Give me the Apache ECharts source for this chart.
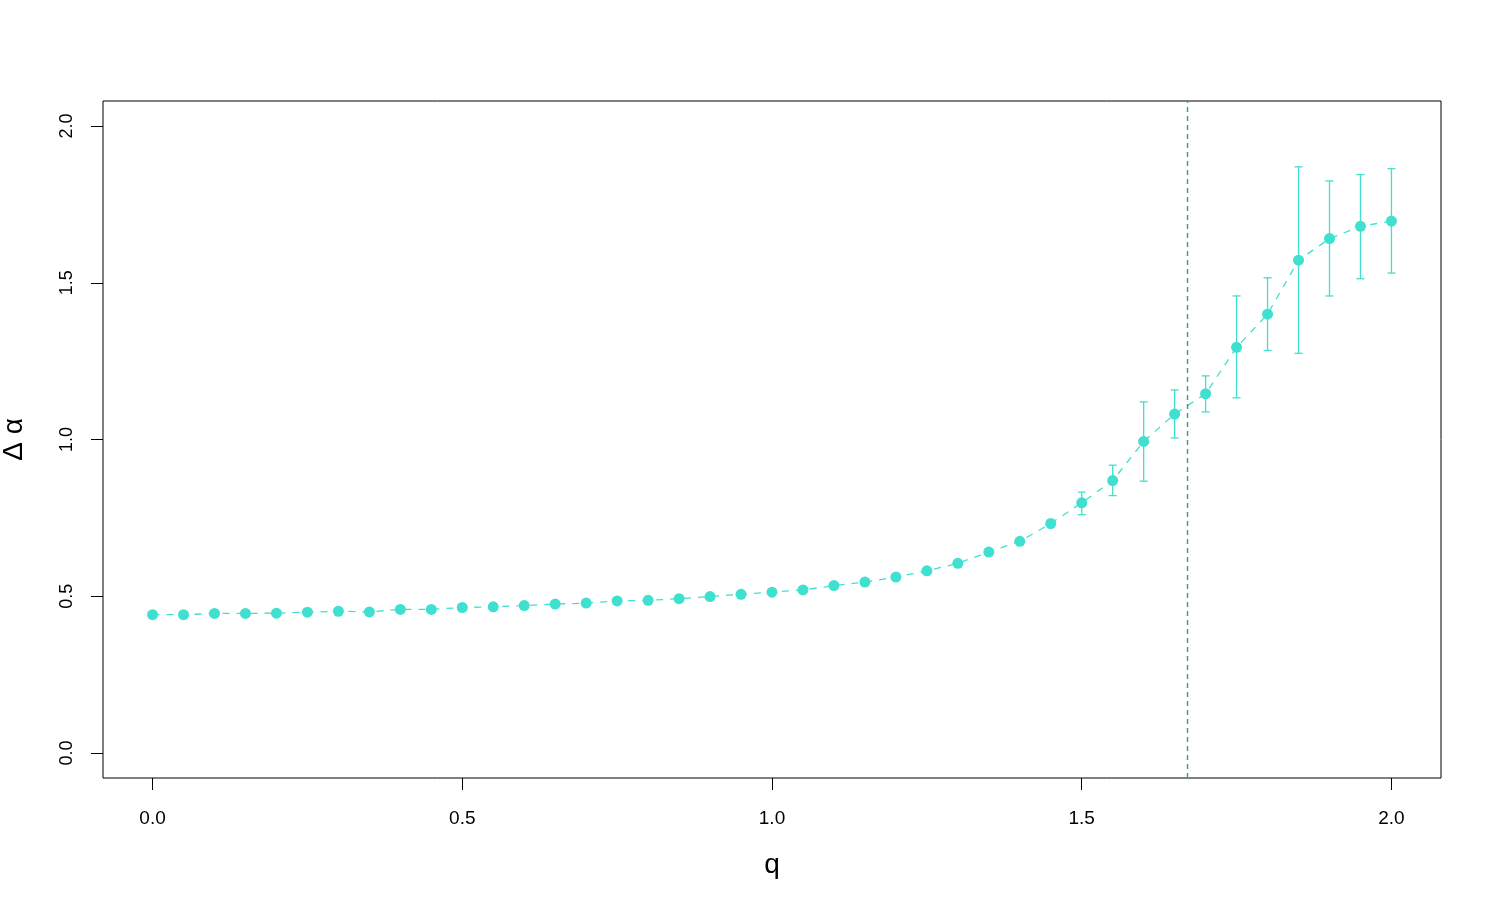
<!DOCTYPE html>
<html>
<head>
<meta charset="utf-8">
<script src="https://cdn.jsdelivr.net/npm/echarts@6/dist/echarts.min.js"></script>
<style>
html, body { margin: 0; padding: 0; background: #fff; }
#main { width: 1495px; height: 907px; }
</style>
</head>
<body>
<div id="main"></div>
<script>
// q values along the x axis
var q = [0.00, 0.05, 0.10, 0.15, 0.20, 0.25, 0.30, 0.35, 0.40, 0.45,
         0.50, 0.55, 0.60, 0.65, 0.70, 0.75, 0.80, 0.85, 0.90, 0.95,
         1.00, 1.05, 1.10, 1.15, 1.20, 1.25, 1.30, 1.35, 1.40, 1.45,
         1.50, 1.55, 1.60, 1.65, 1.70, 1.75, 1.80, 1.85, 1.90, 1.95, 2.00];
// delta alpha
var deltaAlpha = [0.441, 0.441, 0.445, 0.445, 0.446, 0.449, 0.452, 0.450, 0.458, 0.458,
                  0.464, 0.466, 0.470, 0.475, 0.478, 0.485, 0.487, 0.492, 0.499, 0.506,
                  0.513, 0.520, 0.534, 0.545, 0.561, 0.581, 0.605, 0.641, 0.675, 0.732,
                  0.798, 0.869, 0.994, 1.081, 1.146, 1.294, 1.400, 1.572, 1.641, 1.680, 1.697];
// error bars (only visible ones)
var errQ    = [1.50, 1.55, 1.60, 1.65, 1.70, 1.75, 1.80, 1.85, 1.90, 1.95, 2.00];
var errLow  = [0.760, 0.821, 0.867, 1.005, 1.088, 1.133, 1.284, 1.275, 1.458, 1.513, 1.531];
var errHigh = [0.832, 0.918, 1.120, 1.158, 1.203, 1.458, 1.516, 1.870, 1.825, 1.845, 1.864];
var qCut = 1.665;
var xTicks = [0, 0.5, 1, 1.5, 2];
var yTicks = [0, 0.5, 1, 1.5, 2];

var col = '#40E0D0';
var font = 'Liberation Sans, Arial, Helvetica, sans-serif';

function errorBar(params, api){
	var x = api.value(0);
	var lo = api.coord([x, api.value(1)]);
	var hi = api.coord([x, api.value(2)]);
	var cap = 4;
	var style = { stroke: col, lineWidth: 1.3 };
	return {
		type: 'group',
		children: [
			{ type: 'line', shape: { x1: lo[0], y1: lo[1], x2: hi[0], y2: hi[1] }, style: style },
			{ type: 'line', shape: { x1: lo[0] - cap, y1: lo[1], x2: lo[0] + cap, y2: lo[1] }, style: style },
			{ type: 'line', shape: { x1: hi[0] - cap, y1: hi[1], x2: hi[0] + cap, y2: hi[1] }, style: style }
		]
	};
}

var points = [];
for (var i = 0; i < q.length; i++) points.push([q[i], deltaAlpha[i]]);
var bars = [];
for (var j = 0; j < errQ.length; j++) bars.push([errQ[j], errLow[j], errHigh[j]]);

var opt = {
	animation: false,
	grid: {
		left: 103, right: 54, top: 101, bottom: 129,
		containLabel: false, outerBoundsMode: 'none',
		show: true, borderColor: '#000', borderWidth: 1, backgroundColor: 'transparent'
	},
	xAxis: {
		type: 'value', min: -0.08, max: 2.08,
		name: 'q', nameLocation: 'middle', nameGap: 73, nameMoveOverlap: false,
		nameTextStyle: { fontFamily: font, fontSize: 28, color: '#000' },
		axisLine: { show: false, onZero: false },
		splitLine: { show: false },
		axisTick: { show: true, length: 12, customValues: xTicks, lineStyle: { color: '#000' } },
		axisLabel: {
			customValues: xTicks, margin: 31, fontFamily: font, fontSize: 19, color: '#000',
			formatter: function(v){ return v.toFixed(1); }
		}
	},
	yAxis: {
		type: 'value', min: -0.08, max: 2.08,
		name: 'Δ α', nameLocation: 'middle', nameGap: 75, nameRotate: 90, nameMoveOverlap: false,
		nameTextStyle: { fontFamily: font, fontSize: 28, color: '#000' },
		axisLine: { show: false, onZero: false },
		splitLine: { show: false },
		axisTick: { show: true, length: 12, customValues: yTicks, lineStyle: { color: '#000' } },
		axisLabel: {
			customValues: yTicks, margin: 27, rotate: 90, fontFamily: font, fontSize: 18, color: '#000',
			formatter: function(v){ return v.toFixed(1); }
		}
	},
	series: [
		{
			type: 'custom',
			renderItem: errorBar,
			encode: { x: 0, y: [1, 2] },
			data: bars,
			z: 2
		},
		{
			type: 'line',
			data: points,
			symbol: 'circle',
			symbolSize: 11,
			showSymbol: true,
			itemStyle: { color: col },
			lineStyle: { color: col, width: 1.3, type: [7, 7] },
			z: 3,
			markLine: {
				silent: true,
				symbol: 'none',
				label: { show: false },
				lineStyle: { color: '#2a9d9f', width: 1.4, type: [5, 4] },
				data: [{ xAxis: qCut }]
			}
		}
	]
};

echarts.init(document.getElementById('main')).setOption(opt);
</script>
</body>
</html>
